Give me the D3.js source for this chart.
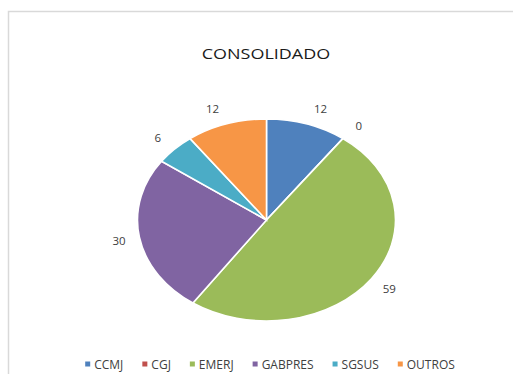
<!DOCTYPE html>
<html>
<head>
<meta charset="utf-8">
<script src="https://cdn.jsdelivr.net/npm/d3@7/dist/d3.min.js"></script>
<style>
  html, body { margin: 0; padding: 0; background: #fff; }
  svg { display: block; }
</style>
</head>
<body>
<svg id="chart" width="513" height="374"></svg>
<script>
// Consolidated totals per sector
const categories = ["CCMJ", "CGJ", "EMERJ", "GABPRES", "SGSUS", "OUTROS"];
const values = [12, 0, 59, 30, 6, 12];
const colors = ["#4F81BD", "#C0504D", "#9BBB59", "#8064A2", "#4BACC6", "#F79646"];
const title = "CONSOLIDADO";

const W = 513, H = 374;
const svg = d3.select("#chart");
const font = "'Open Sans', 'DejaVu Sans', sans-serif";

// Chart-area frame (top and left edges visible)
svg.append("path")
  .attr("d", `M8.5,${H} V11.5 H${W}`)
  .attr("fill", "none")
  .attr("stroke", "#d9d9d9")
  .attr("stroke-width", 1.5);

// Title
svg.append("text")
  .attr("x", 266).attr("y", 59)
  .attr("text-anchor", "middle")
  .attr("font-family", font)
  .attr("font-size", 15)
  .attr("fill", "#1a1a1a")
  .attr("transform", "translate(266,0) scale(1.2,1) translate(-266,0)")
  .text(title);

// Pie, stretched horizontally into an ellipse
const cx = 266.5, cy = 220, ry = 101, rx = 129;
const sx = rx / ry;

const pie = d3.pie().sort(null).value(d => d)(values);
const arc = d3.arc().innerRadius(0).outerRadius(ry);

const g = svg.append("g")
  .attr("transform", `translate(${cx},${cy}) scale(${sx},1)`);

g.selectAll("path.slice")
  .data(pie)
  .join("path")
  .attr("class", "slice")
  .attr("d", arc)
  .attr("fill", (d, i) => colors[i])
  .attr("stroke", "#fff")
  .attr("stroke-width", 1.6)
  .attr("vector-effect", "non-scaling-stroke");

// Outside-end value labels
const k = 1.16;
svg.selectAll("text.val")
  .data(pie)
  .join("text")
  .attr("class", "val")
  .attr("x", d => {
    const a = (d.startAngle + d.endAngle) / 2;
    const s = Math.sin(a), c = Math.cos(a);
    return cx + rx * k * s + Math.sign(s) * 9 * Math.pow(c, 4);
  })
  .attr("y", d => {
    const a = (d.startAngle + d.endAngle) / 2;
    return cy - ry * k * Math.cos(a);
  })
  .attr("text-anchor", "middle")
  .attr("dominant-baseline", "central")
  .attr("font-family", font)
  .attr("font-size", 11.5)
  .attr("fill", "#404040")
  .text(d => d.data);

// Legend along the bottom
const legend = svg.append("g");
let xPos = 0;
const itemGap = 19;
categories.forEach((name, i) => {
  const item = legend.append("g").attr("transform", `translate(${xPos},0)`);
  item.append("rect")
    .attr("x", 0).attr("y", -2.5)
    .attr("width", 5).attr("height", 5)
    .attr("fill", colors[i]);
  const t = item.append("text")
    .attr("x", 9).attr("y", 0)
    .attr("dominant-baseline", "central")
    .attr("font-family", font)
    .attr("font-size", 12)
    .attr("fill", "#404040")
    .text(name);
  xPos += 9 + t.node().getComputedTextLength() + itemGap;
});
const legendWidth = xPos - itemGap;
legend.attr("transform", `translate(${270 - legendWidth / 2},364)`);
</script>
</body>
</html>
